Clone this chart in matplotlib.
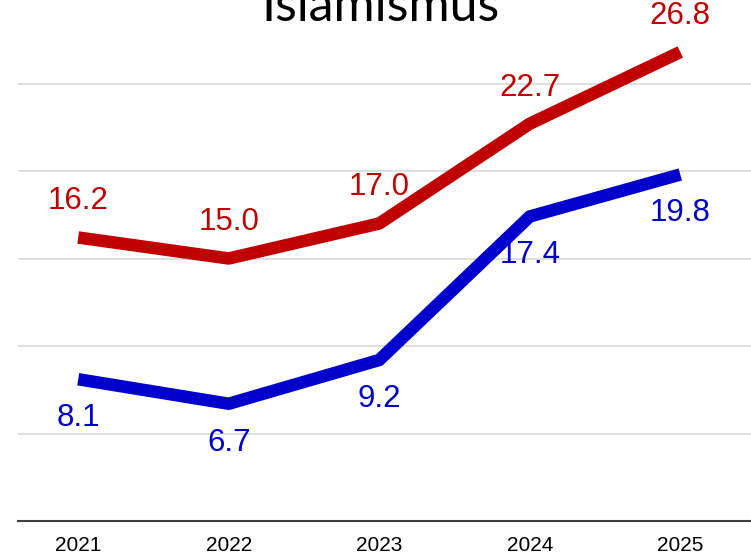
import matplotlib
matplotlib.use("Agg")
import matplotlib.pyplot as plt

years = ["2021", "2022", "2023", "2024", "2025"]
red_values = [16.2, 15.0, 17.0, 22.7, 26.8]
blue_values = [8.1, 6.7, 9.2, 17.4, 19.8]
title = "Islamismus"

RED = "#C00000"
BLUE = "#0000CC"

fig = plt.figure(figsize=(7.51, 5.55), dpi=100)
W, H = 751, 555
ax = fig.add_axes([18 / W, 34 / H, (W - 18) / W, (521) / H])

x = list(range(len(years)))
ax.plot(x, red_values, color=RED, linewidth=9, solid_capstyle="butt", zorder=3)
ax.plot(x, blue_values, color=BLUE, linewidth=9, solid_capstyle="butt", zorder=3)

for xi, v in zip(x, red_values):
    ax.annotate(f"{v:.1f}", (xi, v), xytext=(0, 26), textcoords="offset points",
                ha="center", va="center", color=RED, fontsize=22.5,
                family="Liberation Sans")
for xi, v in zip(x, blue_values):
    ax.annotate(f"{v:.1f}", (xi, v), xytext=(0, -28), textcoords="offset points",
                ha="center", va="center", color=BLUE, fontsize=22.5,
                family="Liberation Sans")

ax.set_xlim(-0.4, 4.47)
ax.set_ylim(0, 521 / 17.5)
ax.set_xticks(x)
ax.set_xticklabels(years, fontsize=15, family="Liberation Sans")
ax.set_yticks([5, 10, 15, 20, 25])
ax.tick_params(axis="y", left=False, labelleft=False)
ax.tick_params(axis="x", length=0, pad=11)
ax.grid(axis="y", color="#d9d9d9", linewidth=1.2)
ax.set_axisbelow(True)
for s in ["top", "right", "left"]:
    ax.spines[s].set_visible(False)
ax.spines["bottom"].set_color("#404040")
ax.spines["bottom"].set_linewidth(1.5)

fig.text(380 / W, 1 - 21 / H, title, ha="center", va="baseline",
         fontsize=36, family="Lato", color="black")

fig.savefig("out.png", dpi=100)
